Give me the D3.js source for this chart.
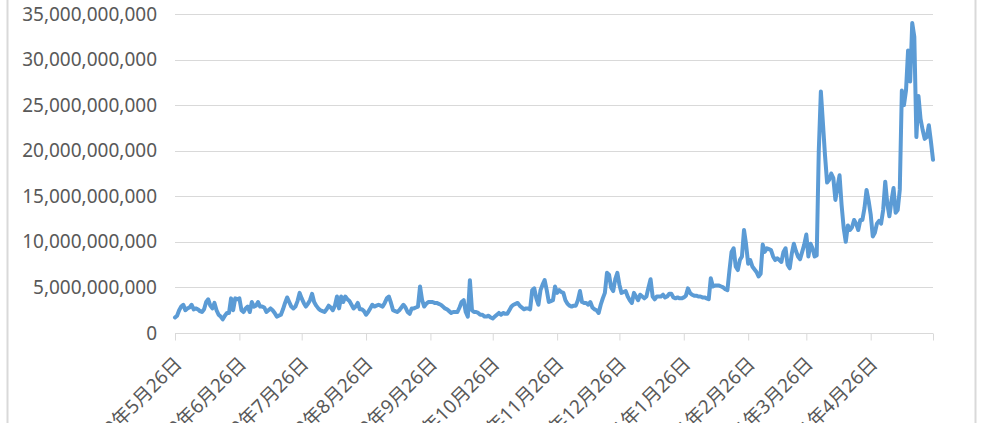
<!DOCTYPE html>
<html>
<head>
<meta charset="utf-8">
<script src="https://cdn.jsdelivr.net/npm/d3@7/dist/d3.min.js"></script>
<style>
  html, body { margin: 0; padding: 0; background: #ffffff; overflow: hidden; }
  svg { display: block; }
  text { font-family: "Noto Sans", "Noto Sans CJK SC", sans-serif; fill: #595959; }
</style>
</head>
<body>
<svg id="chart" width="990" height="423"></svg>
<script>
// ---- data ----
const startDate = "2020-05-26";
// daily values, in billions (x 1,000,000,000)
const volumeBillions = [
  1.7,1.9,2.5,2.9,3.1,2.5,2.7,2.8,3.1,2.6,
  2.7,2.6,2.4,2.3,2.6,3.4,3.7,3.0,2.7,3.3,
  2.5,2.0,1.8,1.5,1.9,2.2,2.2,3.8,2.5,3.8,
  3.7,3.8,2.5,2.3,2.7,2.9,2.3,3.4,2.9,3.0,
  3.4,2.9,2.9,2.8,2.3,2.5,2.7,2.5,2.2,1.8,
  1.9,2.0,2.6,3.3,3.9,3.4,2.9,2.7,2.9,3.5,
  4.4,3.8,3.3,2.9,3.2,3.6,4.3,3.4,3.0,2.7,
  2.5,2.4,2.3,2.6,3.0,2.8,2.5,3.0,4.0,2.7,
  4.0,3.4,4.0,3.7,3.5,3.1,2.7,2.9,3.3,2.6,
  2.6,2.4,2.0,2.3,2.7,3.1,2.9,3.0,3.1,3.0,
  2.9,3.3,3.8,4.0,3.3,2.5,2.4,2.3,2.5,2.8,
  3.1,2.8,2.3,2.1,2.7,2.7,2.8,2.9,5.1,3.6,
  2.9,3.2,3.4,3.4,3.4,3.3,3.3,3.2,3.1,2.9,
  2.7,2.6,2.4,2.2,2.3,2.3,2.3,2.8,3.4,3.6,
  2.3,1.8,5.8,2.5,2.3,2.3,2.2,2.0,2.0,1.8,
  1.8,1.9,1.7,1.6,1.8,2.0,2.2,2.0,2.2,2.1,
  2.1,2.5,2.9,3.1,3.2,3.3,3.0,2.8,2.6,2.7,
  2.7,2.6,4.7,4.9,3.8,3.1,4.7,5.3,5.8,4.7,
  3.4,3.5,3.6,5.1,4.4,4.7,4.5,4.4,3.6,3.2,
  3.0,2.9,3.0,3.0,3.6,4.6,3.4,3.3,3.3,3.1,
  3.4,2.8,2.6,2.5,2.2,3.1,3.8,4.4,6.6,6.4,
  5.0,4.6,5.9,6.6,5.3,4.4,4.5,4.6,4.0,3.6,
  3.3,4.4,4.0,3.6,4.2,4.0,3.8,4.0,5.0,5.9,
  4.0,3.7,4.0,4.0,4.0,4.2,3.9,4.0,4.3,4.3,
  3.9,3.8,3.9,3.8,3.8,3.9,4.1,4.9,4.4,4.2,
  4.1,4.1,4.0,4.0,3.9,3.9,3.8,3.7,6.0,5.1,
  5.2,5.2,5.2,5.1,5.0,4.8,4.7,6.9,8.9,9.3,
  7.3,6.9,8.0,8.4,11.3,9.7,7.6,8.0,7.3,7.0,
  6.7,6.2,6.5,9.7,8.9,9.3,9.2,9.1,8.4,8.0,
  8.2,8.0,7.8,8.9,9.3,7.5,7.1,8.7,9.8,9.0,
  8.4,8.1,8.9,9.7,10.8,8.4,9.8,9.3,8.4,8.5,
  20.0,26.5,23.0,19.5,16.5,16.8,17.5,17.0,14.6,16.0,
  17.3,14.0,11.5,10.0,11.8,11.3,11.6,12.4,12.0,11.3,
  12.4,12.4,13.7,15.7,14.5,13.0,10.6,11.0,12.0,12.3,
  12.0,13.5,16.6,14.2,12.8,14.5,15.9,13.2,13.5,15.7,
  26.6,25.0,26.6,31.0,27.6,34.0,32.5,21.5,26.0,23.5,
  22.3,21.3,21.5,22.8,21.0,19.0
];
const tickDates = [
  "2020-05-26","2020-06-26","2020-07-26","2020-08-26","2020-09-26","2020-10-26",
  "2020-11-26","2020-12-26","2021-01-26","2021-02-26","2021-03-26","2021-04-26","2021-05-26"
];
const tickLabels = [
  "2020年5月26日","2020年6月26日","2020年7月26日","2020年8月26日","2020年9月26日","2020年10月26日",
  "2020年11月26日","2020年12月26日","2021年1月26日","2021年2月26日","2021年3月26日","2021年4月26日",""
];
const yTickBillions = [0, 5, 10, 15, 20, 25, 30, 35];

// ---- layout ----
const plot = { left: 175, right: 933, top: 14, bottom: 333 };
const parse = d3.utcParse("%Y-%m-%d");
const start = parse(startDate);
const series = volumeBillions.map((v, i) => ({ date: d3.utcDay.offset(start, i), value: v }));

const x = d3.scaleUtc()
  .domain([start, d3.utcDay.offset(start, volumeBillions.length - 1)])
  .range([plot.left, plot.right]);
const y = d3.scaleLinear().domain([0, 35]).range([plot.bottom, plot.top]);

const svg = d3.select("#chart");

// chart frame borders
svg.append("line").attr("x1", 7.5).attr("x2", 7.5).attr("y1", 0).attr("y2", 423)
  .attr("stroke", "#d9d9d9").attr("stroke-width", 2);
svg.append("line").attr("x1", 975.5).attr("x2", 975.5).attr("y1", 0).attr("y2", 423)
  .attr("stroke", "#d9d9d9").attr("stroke-width", 2);

// gridlines
svg.append("g").selectAll("line").data(yTickBillions.filter(d => d > 0)).join("line")
  .attr("x1", plot.left).attr("x2", plot.right)
  .attr("y1", d => Math.round(y(d)) + 0.5).attr("y2", d => Math.round(y(d)) + 0.5)
  .attr("stroke", "#d9d9d9").attr("stroke-width", 1);

// y axis labels
const fmt = d3.format(",");
const yAxis = d3.axisLeft(y).tickValues(yTickBillions).tickSize(0).tickPadding(0)
  .tickFormat(d => fmt(d * 1e9));
const gy = svg.append("g").attr("transform", `translate(157,0)`).call(yAxis);
gy.select(".domain").remove();
gy.selectAll("text").attr("font-size", 19).attr("fill", "#595959")
  .attr("font-family", '"Noto Sans", "Noto Sans CJK SC", sans-serif');

// x axis
const tickD = tickDates.map(parse);
const xAxis = d3.axisBottom(x).tickValues(tickD).tickSize(7).tickFormat("");
const gx = svg.append("g").attr("transform", `translate(0,${plot.bottom + 0.5})`).call(xAxis);
gx.select(".domain").attr("stroke", "#d9d9d9").attr("d", `M${plot.left},0H${plot.right}`);
gx.selectAll(".tick line").attr("stroke", "#d9d9d9");

svg.append("g").selectAll("text").data(tickD).join("text")
  .attr("transform", d => `translate(${x(d) + 3},360) rotate(-45)`)
  .attr("text-anchor", "end")
  .attr("dominant-baseline", "central")
  .attr("font-size", 19)
  .text((d, i) => tickLabels[i]);

// line
const line = d3.line().x(d => x(d.date)).y(d => y(d.value));
svg.append("path").datum(series)
  .attr("d", line)
  .attr("fill", "none")
  .attr("stroke", "#5B9BD5")
  .attr("stroke-width", 4)
  .attr("stroke-linejoin", "round")
  .attr("stroke-linecap", "round");
</script>
</body>
</html>
